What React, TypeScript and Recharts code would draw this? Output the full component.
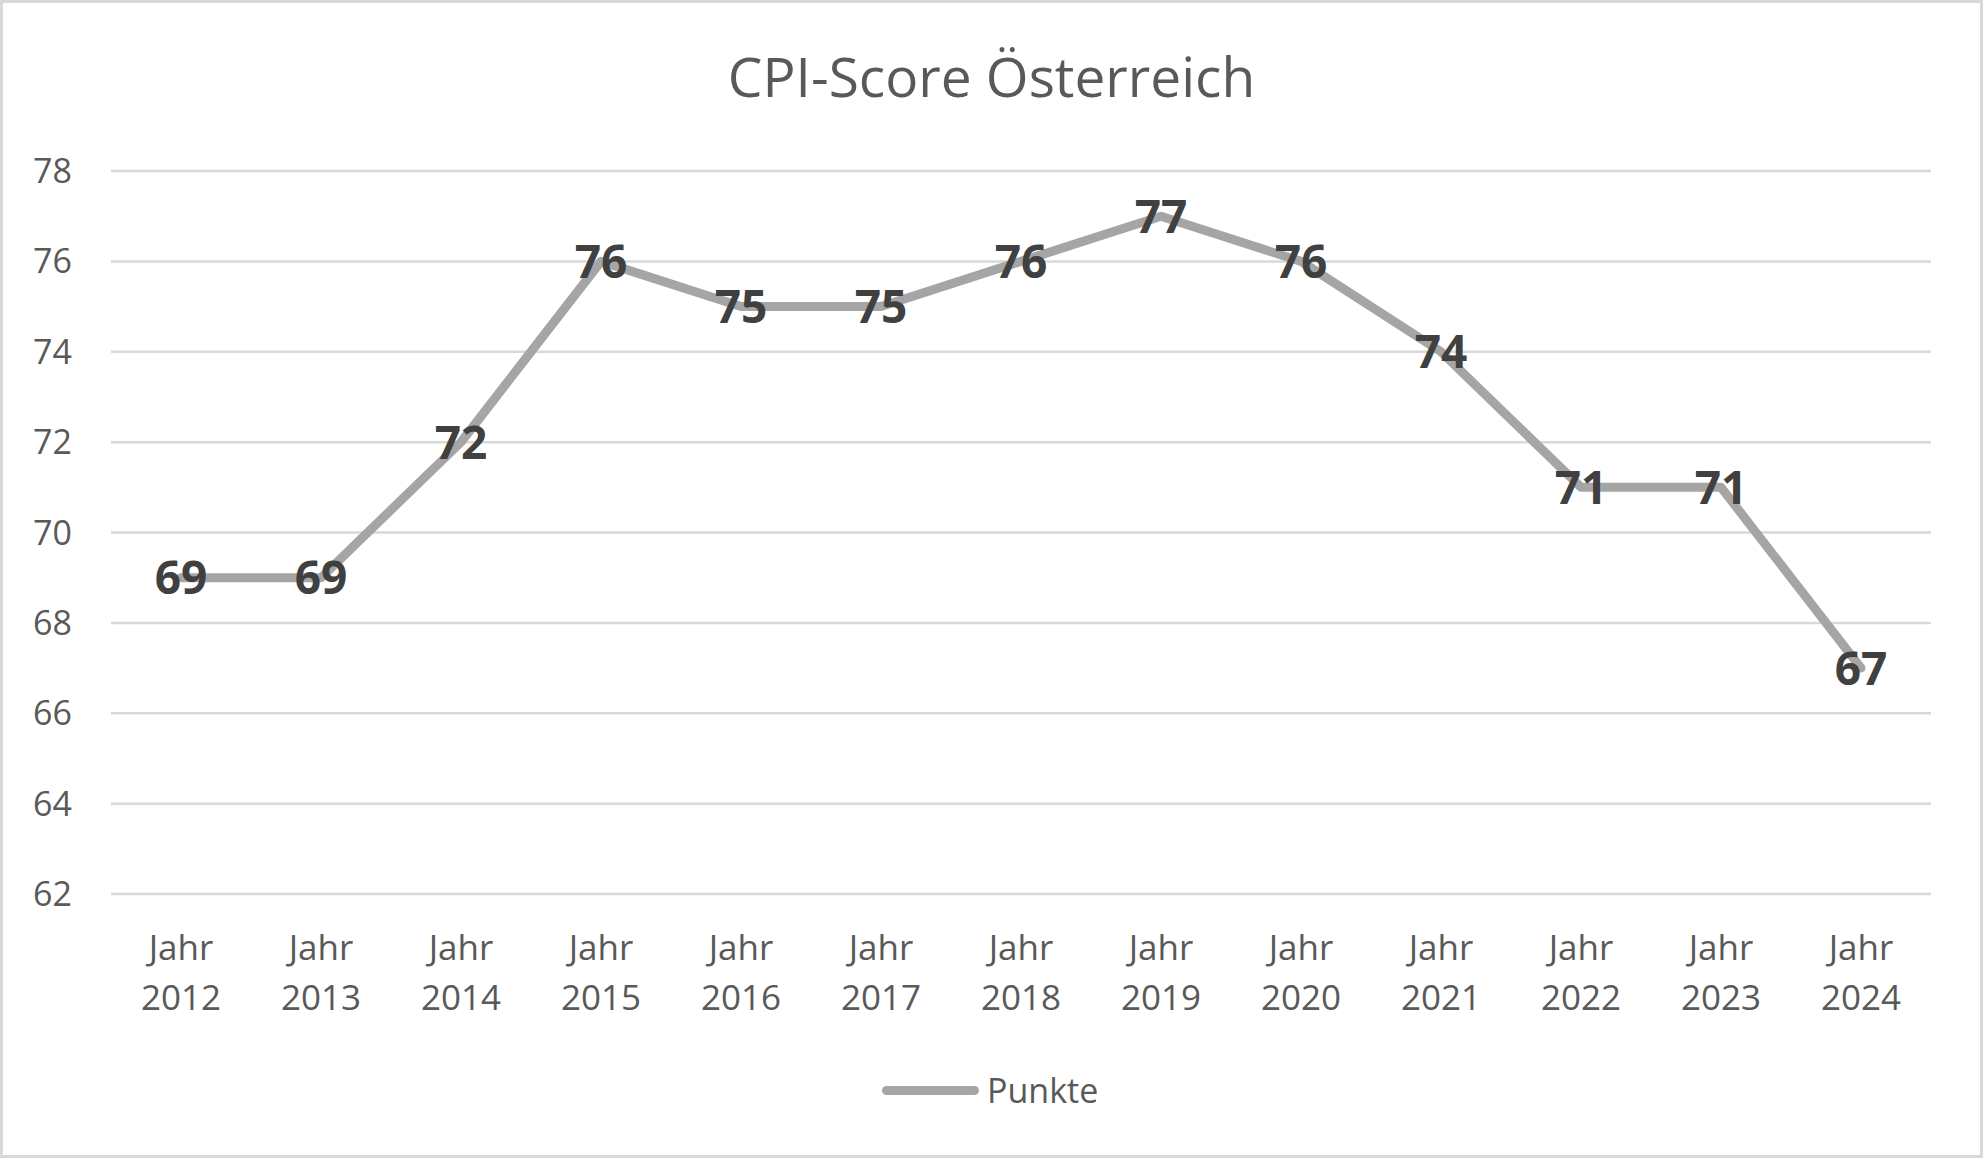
import { LineChart, Line, XAxis, YAxis, CartesianGrid, LabelList } from "recharts"

const years = ["2012", "2013", "2014", "2015", "2016", "2017", "2018", "2019", "2020", "2021", "2022", "2023", "2024"]
const punkte = [69, 69, 72, 76, 75, 75, 76, 77, 76, 74, 71, 71, 67]
const yTicks = [62, 64, 66, 68, 70, 72, 74, 76, 78]

const data = years.map((year, i) => ({ name: year, punkte: punkte[i] }))

const FONT = "'Open Sans', 'Noto Sans', sans-serif"
const TEXT = "#595959"
const LINE = "#a5a5a5"

function YearTick(props: any) {
  const { x, y, payload } = props
  return (
    <text x={x} y={y} textAnchor="middle" fill={TEXT} fontSize={35} fontFamily={FONT}>
      <tspan x={x} y={y + 66}>Jahr</tspan>
      <tspan x={x} y={y + 116}>{payload.value}</tspan>
    </text>
  )
}

function ValueLabel(props: any) {
  const { x, y, value } = props
  return (
    <text
      x={x}
      y={y}
      dy="0.36em"
      textAnchor="middle"
      fill="#404040"
      fontSize={46}
      fontWeight="bold"
      fontFamily={FONT}
    >
      {value}
    </text>
  )
}

export default function App() {
  return (
    <div style={{ position: "absolute", left: 0, top: 0, width: 1983, height: 1158, background: "#fff" }}>
      <div
        style={{
          position: "absolute",
          left: 0,
          top: 46,
          width: 1983,
          textAlign: "center",
          fontFamily: FONT,
          fontSize: 55,
          color: TEXT,
          lineHeight: "60px",
        }}
      >
        CPI-Score Österreich
      </div>
      <LineChart
        width={1983}
        height={1158}
        data={data}
        margin={{ top: 171, right: 52, bottom: 164, left: 0 }}
        style={{ position: "absolute", left: 0, top: 0 }}
      >
        <CartesianGrid vertical={false} stroke="#d9d9d9" strokeWidth={2.5} />
        <XAxis
          dataKey="name"
          height={100}
          axisLine={false}
          tickLine={false}
          tickSize={0}
          tickMargin={0}
          padding={{ left: 70, right: 70 }}
          interval={0}
          tick={<YearTick />}
        />
        <YAxis
          width={111}
          domain={[62, 78]}
          ticks={yTicks}
          axisLine={false}
          tickLine={false}
          tickSize={0}
          tickMargin={39}
          tick={{ fill: TEXT, fontSize: 34, fontFamily: FONT }}
        />
        <Line
          type="linear"
          dataKey="punkte"
          stroke={LINE}
          strokeWidth={9}
          strokeLinecap="round"
          strokeLinejoin="round"
          dot={false}
          activeDot={false}
          isAnimationActive={false}
        >
          <LabelList dataKey="punkte" content={<ValueLabel />} />
        </Line>
      </LineChart>
      <div
        style={{
          position: "absolute",
          left: 882,
          top: 1066,
          display: "flex",
          alignItems: "center",
          fontFamily: FONT,
          fontSize: 34,
          color: TEXT,
          lineHeight: "48px",
        }}
      >
        <div style={{ width: 97, height: 9, borderRadius: 5, background: LINE, marginRight: 8 }} />
        <span>Punkte</span>
      </div>
      <div
        style={{
          position: "absolute",
          left: 0,
          top: 0,
          width: 1983,
          height: 1158,
          boxSizing: "border-box",
          border: "3px solid #d9d9d9",
          pointerEvents: "none",
        }}
      />
    </div>
  )
}
